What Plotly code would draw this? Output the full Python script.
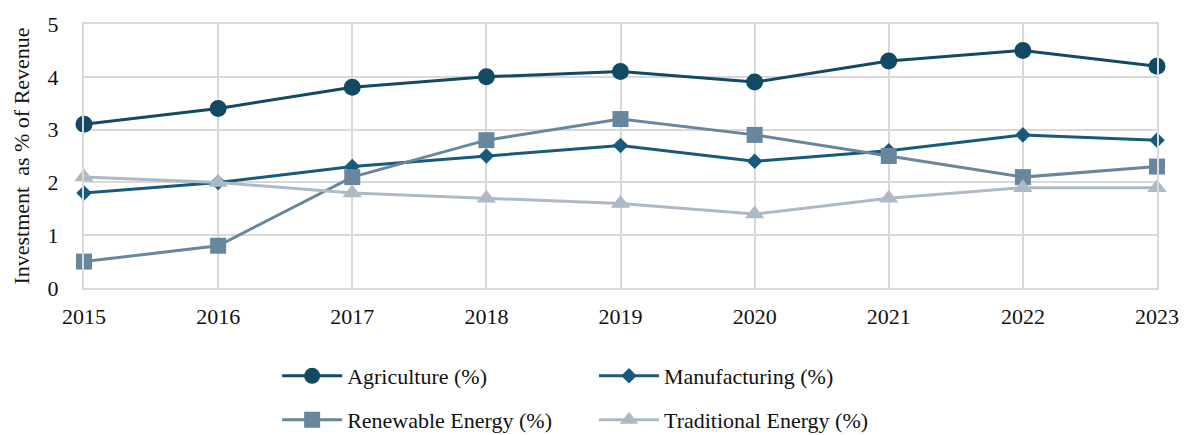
import plotly.graph_objects as go

years = [2015, 2016, 2017, 2018, 2019, 2020, 2021, 2022, 2023]
agriculture = [3.1, 3.4, 3.8, 4.0, 4.1, 3.9, 4.3, 4.5, 4.2]
manufacturing = [1.8, 2.0, 2.3, 2.5, 2.7, 2.4, 2.6, 2.9, 2.8]
renewable = [0.5, 0.8, 2.1, 2.8, 3.2, 2.9, 2.5, 2.1, 2.3]
traditional = [2.1, 2.0, 1.8, 1.7, 1.6, 1.4, 1.7, 1.9, 1.9]

# name, values, colour, marker symbol, marker size, legend id
series = [
    ("Agriculture (%)", agriculture, "#124963", "circle", 17, "legend"),
    ("Manufacturing (%)", manufacturing, "#175a7b", "diamond", 12, "legend2"),
    ("Renewable Energy (%)", renewable, "#68869c", "square", 16, "legend3"),
    ("Traditional Energy (%)", traditional, "#adbac5", "triangle-up", 17, "legend4"),
]

font_family = "Liberation Serif"
text_color = "#111111"
grid = "#d9d9d9"

fig = go.Figure()
for name, vals, color, symbol, size, lg in series:
    fig.add_trace(go.Scatter(
        x=years, y=vals, name=name, mode="lines+markers",
        line=dict(color=color, width=3),
        marker=dict(symbol=symbol, size=size, color=color),
        cliponaxis=False, legend=lg, showlegend=True,
    ))

legend_common = dict(
    orientation="h", xanchor="left", yanchor="middle", yref="container",
    font=dict(family=font_family, size=22, color=text_color),
    bgcolor="rgba(0,0,0,0)", itemwidth=60,
)

col1, col2 = 0.180, 0.4753
row1, row2 = 0.1356, 0.0345

fig.update_layout(
    width=1192, height=435,
    showlegend=True,
    margin=dict(l=84, r=35, t=24, b=147, autoexpand=False),
    paper_bgcolor="white", plot_bgcolor="white",
    font=dict(family=font_family, size=22, color=text_color),
    xaxis=dict(
        range=[2015, 2023], tickmode="array", tickvals=years,
        ticktext=[str(y) for y in years],
        showgrid=True, gridcolor=grid, gridwidth=2,
        showline=True, linecolor=grid, linewidth=2, mirror=True,
        ticks="", zeroline=False, ticklabelstandoff=8,
        tickfont=dict(family=font_family, size=22, color=text_color),
    ),
    yaxis=dict(
        range=[0, 5], tickmode="array", tickvals=[0, 1, 2, 3, 4, 5],
        showgrid=True, gridcolor=grid, gridwidth=2,
        showline=True, linecolor=grid, linewidth=2, mirror=True,
        ticks="", zeroline=False, ticklabelstandoff=19,
        title=dict(text="Investment  as % of Revenue", standoff=12,
                   font=dict(family=font_family, size=22, color=text_color)),
        tickfont=dict(family=font_family, size=22, color=text_color),
    ),
    legend=dict(x=col1, y=row1, **legend_common),
    legend2=dict(x=col2, y=row1, **legend_common),
    legend3=dict(x=col1, y=row2, **legend_common),
    legend4=dict(x=col2, y=row2, **legend_common),
)

fig.write_html("out.html")
